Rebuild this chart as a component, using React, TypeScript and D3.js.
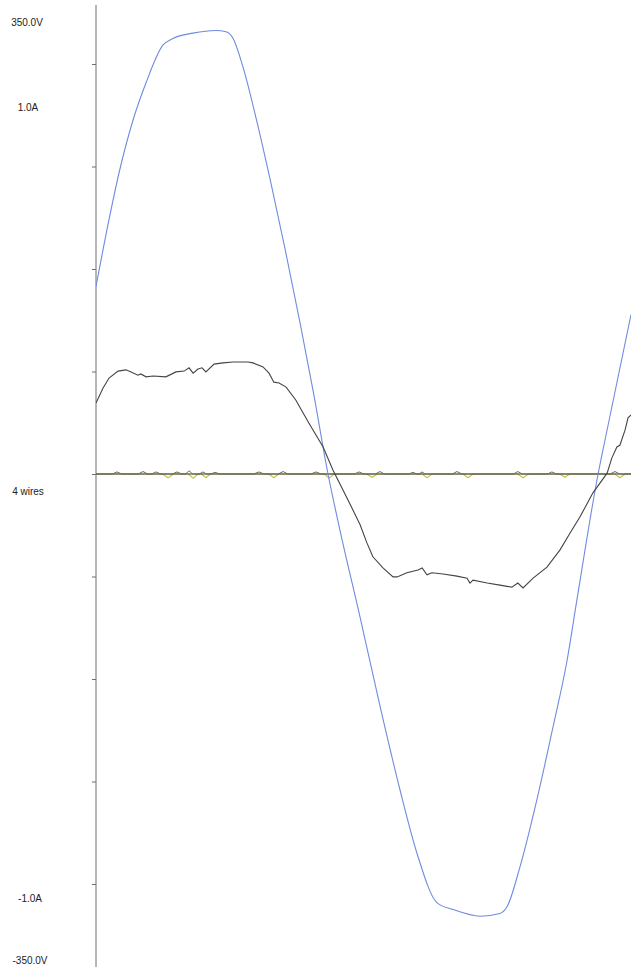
import React, { useEffect, useRef } from 'react';
import * as d3 from 'd3';

// time in ms, voltage in V (blue trace)
const voltTime = [0, 0.48, 0.85, 1.36, 1.84, 2.46, 2.83, 3.57, 4.41, 4.78, 5.04, 5.4, 5.88, 6.4, 6.95, 7.5, 8.01, 8.53, 8.97, 9.71, 10.44, 11.18, 11.8, 12.54, 13.13, 14.12, 14.85, 15.11, 15.59, 16.21, 16.8, 17.32, 17.68, 18.46, 18.71, 19.67];
const voltValues = [140, 190, 225, 264, 292, 320, 325, 329, 331, 330, 325, 304, 266, 220, 168, 113, 59, 0, -42, -107, -173, -236, -283, -320, -325, -330, -328, -323, -293, -243, -189, -139, -94, 0, 25, 119];

// phase current in A (black trace)
const currTime = [0, 0.26, 0.48, 0.81, 1.1, 1.29, 1.54, 1.65, 1.84, 2.1, 2.57, 2.94, 3.24, 3.42, 3.57, 3.75, 3.9, 4.04, 4.34, 4.67, 5.04, 5.59, 5.77, 6.14, 6.36, 6.54, 6.73, 6.99, 7.35, 7.83, 8.35, 8.71, 9.08, 9.41, 9.71, 9.96, 10.18, 10.55, 10.92, 11.07, 11.43, 11.84, 11.99, 12.17, 12.35, 12.76, 13.27, 13.64, 13.75, 13.86, 14.38, 14.85, 15.29, 15.51, 15.7, 16.07, 16.58, 17.06, 17.43, 17.79, 18.27, 18.79, 18.97, 19.15, 19.26, 19.45, 19.56, 19.67];
const currValues = [0.173, 0.21, 0.234, 0.251, 0.254, 0.249, 0.241, 0.244, 0.237, 0.239, 0.237, 0.249, 0.251, 0.259, 0.246, 0.256, 0.259, 0.249, 0.268, 0.271, 0.273, 0.273, 0.271, 0.261, 0.246, 0.224, 0.222, 0.212, 0.18, 0.124, 0.066, 0.01, -0.039, -0.083, -0.124, -0.168, -0.202, -0.229, -0.251, -0.251, -0.241, -0.234, -0.229, -0.246, -0.241, -0.244, -0.249, -0.254, -0.266, -0.259, -0.266, -0.271, -0.276, -0.266, -0.278, -0.254, -0.227, -0.185, -0.144, -0.105, -0.046, 0.002, 0.04, 0.066, 0.07, 0.107, 0.137, 0.144];

// neutral current, yellow trace (small dips)
const neutralATime = [0, 2.45, 2.65, 2.85, 3.4, 3.57, 3.75, 3.88, 4.04, 4.2, 6.35, 6.54, 6.72, 8.4, 8.57, 8.75, 9.95, 10.15, 10.35, 12.0, 12.17, 12.35, 13.5, 13.68, 13.86, 15.5, 15.7, 15.9, 17.05, 17.24, 17.42, 19.08, 19.26, 19.45, 19.7];
const neutralAValues = [0, 0, -0.009, 0, 0, -0.01, 0, 0, -0.009, 0, 0, -0.009, 0, 0, -0.01, 0, 0, -0.008, 0, 0, -0.009, 0, 0, -0.009, 0, 0, -0.009, 0, 0, -0.008, 0, 0, -0.009, 0, 0];

// neutral current, dark trace (small bumps)
const neutralBTime = [0, 0.6, 0.77, 0.95, 1.55, 1.73, 1.9, 2.05, 2.21, 2.38, 2.8, 2.98, 3.15, 3.3, 3.42, 3.55, 3.8, 3.93, 4.06, 4.22, 4.38, 4.55, 5.8, 5.99, 6.18, 6.7, 6.88, 7.05, 7.9, 8.09, 8.28, 9.5, 9.67, 9.85, 10.27, 10.44, 10.6, 11.5, 11.65, 11.8, 11.88, 11.99, 12.1, 13.1, 13.27, 13.45, 15.35, 15.51, 15.67, 16.6, 16.76, 16.93, 18.9, 19.08, 19.25, 19.7];
const neutralBValues = [0, 0, 0.005, 0, 0, 0.006, 0, 0, 0.005, 0, 0, 0.005, 0, 0, 0.008, 0, 0, 0.005, 0, 0, 0.004, 0, 0, 0.005, 0, 0, 0.006, 0, 0, 0.005, 0, 0, 0.005, 0, 0, 0.006, 0, 0, 0.004, 0, 0, 0.005, 0, 0, 0.006, 0, 0, 0.006, 0, 0, 0.005, 0, 0, 0.006, 0, 0];

const currentTicks = [-1, -0.75, -0.5, -0.25, 0, 0.25, 0.5, 0.75, 1];

const App = () => {
  const svgRef = useRef(null);

  useEffect(() => {
    const width = 631;
    const height = 967;
    const left = 96;

    d3.select(svgRef.current).selectAll('*').remove();

    const svg = d3.select(svgRef.current)
      .attr('width', width)
      .attr('height', height);

    const x = d3.scaleLinear().domain([0, 20]).range([left, 640]);
    const yV = d3.scaleLinear().domain([-350, 350]).range([943, 5]);
    const yI = d3.scaleLinear().domain([-1, 1]).range([884, 64]);

    svg.append('defs').append('clipPath')
      .attr('id', 'plot-clip')
      .append('rect')
      .attr('x', left).attr('y', 0)
      .attr('width', width - left).attr('height', height);

    // vertical axis with current ticks
    svg.append('line')
      .attr('x1', left).attr('x2', left)
      .attr('y1', 5).attr('y2', height)
      .attr('stroke', '#6e6e6e')
      .attr('stroke-width', 1);

    const axis = svg.append('g')
      .attr('transform', `translate(${left},0)`)
      .call(d3.axisLeft(yI).tickValues(currentTicks).tickSize(4).tickFormat(() => ''));
    axis.select('.domain').remove();
    axis.selectAll('line').attr('stroke', '#6e6e6e');

    const plot = svg.append('g').attr('clip-path', 'url(#plot-clip)');

    const lineI = (times) => d3.line()
      .x((d, i) => x(times[i]))
      .y(d => yI(d));

    plot.append('path')
      .datum(neutralAValues)
      .attr('d', lineI(neutralATime))
      .attr('fill', 'none')
      .attr('stroke', '#c9c23a')
      .attr('stroke-width', 1.2);

    // zero line
    plot.append('line')
      .attr('x1', left).attr('x2', width)
      .attr('y1', yI(0)).attr('y2', yI(0))
      .attr('stroke', '#3a3a3a')
      .attr('stroke-width', 1.2);

    plot.append('path')
      .datum(neutralBValues)
      .attr('d', lineI(neutralBTime))
      .attr('fill', 'none')
      .attr('stroke', '#6a6a50')
      .attr('stroke-width', 1);

    // voltage
    plot.append('path')
      .datum(voltValues)
      .attr('d', d3.line()
        .x((d, i) => x(voltTime[i]))
        .y(d => yV(d))
        .curve(d3.curveMonotoneX))
      .attr('fill', 'none')
      .attr('stroke', '#6f8be0')
      .attr('stroke-width', 1.1);

    // phase current
    plot.append('path')
      .datum(currValues)
      .attr('d', lineI(currTime))
      .attr('fill', 'none')
      .attr('stroke', '#444')
      .attr('stroke-width', 1.1);

    // labels
    const labels = [
      { text: '350.0V', x: 27, y: 22 },
      { text: '1.0A', x: 28, y: 107 },
      { text: '4 wires', x: 28, y: 491 },
      { text: '-1.0A', x: 30, y: 898 },
      { text: '-350.0V', x: 30, y: 960 },
    ];
    svg.selectAll('.lbl')
      .data(labels)
      .enter()
      .append('text')
      .attr('class', 'lbl')
      .attr('x', d => d.x)
      .attr('y', d => d.y)
      .attr('text-anchor', 'middle')
      .attr('dominant-baseline', 'central')
      .style('font-family', '"Liberation Sans", Arial, sans-serif')
      .style('font-size', '10px')
      .style('fill', '#222')
      .text(d => d.text);
  }, []);

  return (
    <div style={{ position: 'absolute', left: 0, top: 0, width: 631, height: 967, overflow: 'hidden', background: '#fff' }}>
      <svg ref={svgRef}></svg>
    </div>
  );
};

export default App;
